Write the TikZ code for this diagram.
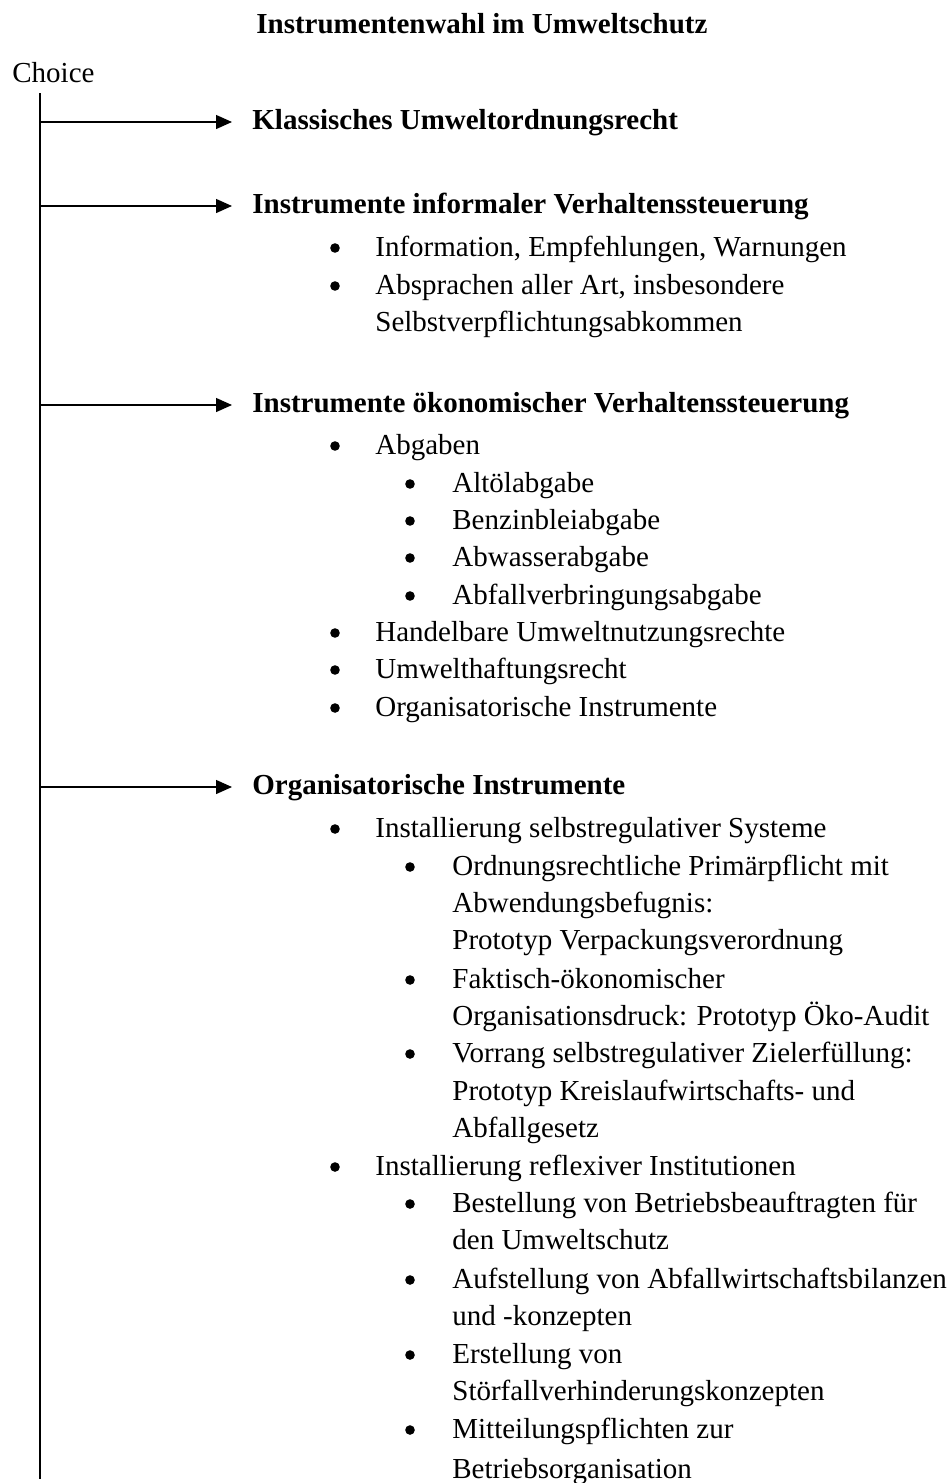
\documentclass[tikz,border=0pt]{standalone}
\usepackage{fontspec}
\setmainfont{Liberation Serif}
\usetikzlibrary{arrows.meta}

\begin{document}
\begin{tikzpicture}[x=0.5pt,y=-0.5pt,
    every node/.style={inner sep=0pt,anchor=base west,font=\fontsize{14.5}{17}\selectfont},
    head/.style={anchor=west,text height=10pt,text depth=3pt,font=\fontsize{14.5}{17}\selectfont\bfseries},
    branch/.style={-{Triangle[length=8pt,width=7pt]},line width=0.65pt}]
        \useasboundingbox (0,0) rectangle (949,1483);
        \node[font=\fontsize{14.5}{17}\selectfont\bfseries] (title) at (256,33) {Instrumentenwahl im Umweltschutz};
        \node (choice) at (12,82) {Choice};
        % trunk
        \coordinate (top) at (40,93);
        \coordinate (bottom) at (40,1479);
        \draw[line width=0.65pt] (top) -- (bottom);
        \coordinate (b1) at (40,122);
        \coordinate (b2) at (40,206);
        \coordinate (b3) at (40,405);
        \coordinate (b4) at (40,787);
        % headings
        \node[head] (klass) at (252,122) {Klassisches Umweltordnungsrecht};
        \node[head] (informal) at (252,206) {Instrumente informaler Verhaltenssteuerung};
        \node[head] (oekon) at (252,405) {Instrumente ökonomischer Verhaltenssteuerung};
        \node[head] (organ) at (252,787) {Organisatorische Instrumente};
        \draw[branch] (b1) -- ([xshift=-10pt]klass.west);
        \draw[branch] (b2) -- ([xshift=-10pt]informal.west);
        \draw[branch] (b3) -- ([xshift=-10pt]oekon.west);
        \draw[branch] (b4) -- ([xshift=-10pt]organ.west);
        % first level
        \node (info) at (375,256) {Information, Empfehlungen, Warnungen};
        \node (abspr) at (375,294) {Absprachen aller Art, insbesondere};
        \node (abspr2) at (375,331) {Selbstverpflichtungsabkommen};
        \node (abgaben) at (375,454) {Abgaben};
        \node (handel) at (375,641) {Handelbare Umweltnutzungsrechte};
        \node (haft) at (375,678) {Umwelthaftungsrecht};
        \node (orginst) at (375,716) {Organisatorische Instrumente};
        \node (selbst) at (375,837) {Installierung selbstregulativer Systeme};
        \node (reflex) at (375,1175) {Installierung reflexiver Institutionen};
        % second level
        \node (altoel) at (452,492) {Altölabgabe};
        \node (benzin) at (452,529) {Benzinbleiabgabe};
        \node (abwasser) at (452,566) {Abwasserabgabe};
        \node (abfall) at (452,604) {Abfallverbringungsabgabe};
        \node (ordn) at (452,875) {Ordnungsrechtliche Primärpflicht mit};
        \node (ordn2) at (452,912) {Abwendungsbefugnis:};
        \node (ordn3) at (452,949) {Prototyp Verpackungsverordnung};
        \node (fakt) at (452,988) {Faktisch-ökonomischer};
        \node (fakt2) at (452,1025) {Organisationsdruck: Prototyp Öko-Audit};
        \node (vorr) at (452,1062) {Vorrang selbstregulativer Zielerfüllung:};
        \node (vorr2) at (452,1100) {Prototyp Kreislaufwirtschafts- und};
        \node (vorr3) at (452,1137) {Abfallgesetz};
        \node (best) at (452,1212) {Bestellung von Betriebsbeauftragten für};
        \node (best2) at (452,1249) {den Umweltschutz};
        \node (aufst) at (452,1288) {Aufstellung von Abfallwirtschaftsbilanzen};
        \node (aufst2) at (452,1325) {und -konzepten};
        \node (erst) at (452,1363) {Erstellung von};
        \node (erst2) at (452,1400) {Störfallverhinderungskonzepten};
        \node (mitt) at (452,1438) {Mitteilungspflichten zur};
        \node (mitt2) at (452,1478) {Betriebsorganisation};
        % bullets
        \foreach \y in {248,286,446,633,670,708,829,1167}
            \fill (335,\y) circle[radius=2.4pt];
        \foreach \y in {484,521,558,596,867,980,1054,1204,1280,1355,1430}
            \fill (410,\y) circle[radius=2.4pt];
      \end{tikzpicture}
\end{document}
